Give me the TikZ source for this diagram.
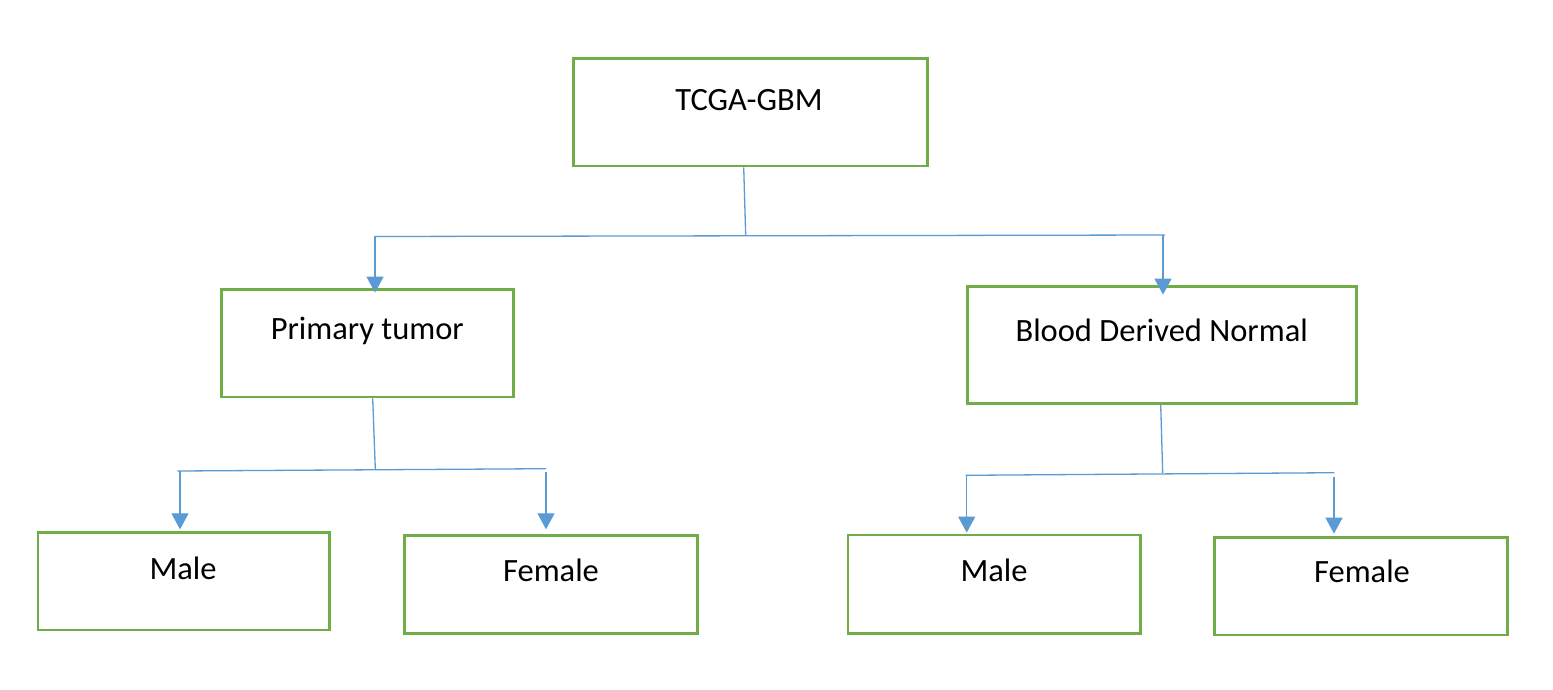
\documentclass[tikz,border=0pt]{standalone}
\usepackage{fontspec}
\setmainfont{Carlito}
\usetikzlibrary{arrows.meta,calc}
\definecolor{boxgreen}{HTML}{70AD47}
\definecolor{lineblue}{HTML}{5B9BD5}
\tikzset{
  box/.style={draw=boxgreen, line width=2.8pt, fill=none, inner sep=0pt, rectangle},
  txt/.style={anchor=base, inner sep=0pt, font=\fontsize{32.5}{39}\selectfont},
  conn/.style={draw=lineblue, line width=1.3pt},
  arr/.style={conn, -{Triangle[width=17pt,length=16pt]}}
}
\begin{document}
\begin{tikzpicture}[x=1pt,y=-1pt]
\useasboundingbox (0,0) rectangle (1553,689);
\fill[white] (0,0) rectangle (1553,689);
% boxes
\node[box, minimum width=354.4pt, minimum height=107.7pt] (tcga) at (750.5,112.15) {};
\node[box, minimum width=292pt, minimum height=107.3pt] (prim) at (367.3,343.35) {};
\node[box, minimum width=389pt, minimum height=116.6pt] (blood) at (1162.2,345) {};
\node[box, minimum width=291.5pt, minimum height=97.7pt] (m1) at (183.65,581.15) {};
\node[box, minimum width=292.9pt, minimum height=98pt] (f1) at (551.25,584.3) {};
\node[box, minimum width=292.8pt, minimum height=98.3pt] (m2) at (994.3,584.15) {};
\node[box, minimum width=292.9pt, minimum height=97.7pt] (f2) at (1361.25,586.15) {};
% texts
\node[txt] (tcgaT) at (749,110.7) {TCGA-GBM};
\node[txt] (primT) at (367.3,339.3) {Primary tumor};
\node[txt] (bloodT) at (1161.7,341.7) {Blood Derived Normal};
\node[txt] (m1T) at (183,579) {Male};
\node[txt] (f1T) at (551,581) {Female};
\node[txt] (m2T) at (994,581) {Male};
\node[txt] (f2T) at (1362,582.7) {Female};
% junction coordinates
\coordinate (j0) at (745.7,235.7);
\coordinate (b0L) at (374,236.5);
\coordinate (b0R) at (1165,235);
\coordinate (j1) at (375.3,469.3);
\coordinate (b1L) at (177.3,471);
\coordinate (b1R) at (546,468.7);
\coordinate (j2) at (1162.7,473.3);
\coordinate (b2L) at (965.7,475.3);
\coordinate (b2R) at (1334.3,472.7);
% level 1
\draw[conn] ($(tcga.south)+(-6.8,0)$) -- (j0);
\draw[conn] (b0L) -- (b0R);
\draw[arr] ($(b0L)+(1,0)$) -- ($(prim.north)+(7.7,4.3)$);
\draw[arr] ($(b0R)+(-2,0.2)$) -- ($(blood.north)+(0.8,9.3)$);
% level 2 left
\draw[conn] ($(prim.south)+(5.4,0)$) -- (j1);
\draw[conn] (b1L) -- (b1R);
\draw[arr] ($(b1L)+(2.7,0)$) -- ($(m1.north)+(-3.65,-1.6)$);
\draw[arr] ($(b1R)+(0,3.6)$) -- ($(f1.north)+(-5.25,-4.6)$);
% level 2 right
\draw[conn] ($(blood.south)+(-1.5,0)$) -- (j2);
\draw[conn] (b2L) -- (b2R);
\draw[arr] ($(b2L)+(1,0)$) -- ($(m2.north)+(-27.6,-1)$);
\draw[arr] ($(b2R)+(-0.3,4)$) -- ($(f2.north)+(-27.25,-2.3)$);
\end{tikzpicture}
\end{document}
